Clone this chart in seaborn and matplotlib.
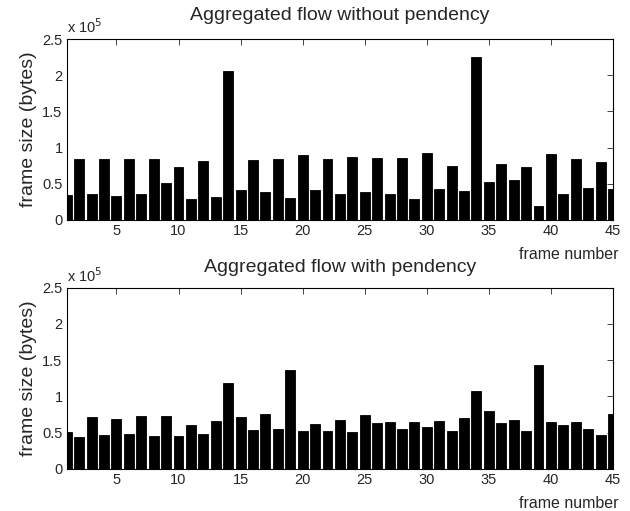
"""Frame sizes of the aggregated flow, with and without pendency."""

import matplotlib
matplotlib.use("Agg")
import matplotlib.pyplot as plt
import numpy as np
import pandas as pd
import seaborn as sns

# frame numbers 1..45
frames = list(range(1, 46))

# frame size in units of 10^5 bytes
without_pendency = [
    0.344, 0.849, 0.353, 0.839, 0.330, 0.839, 0.362, 0.844, 0.509, 0.734,
    0.284, 0.810, 0.317, 2.055, 0.420, 0.835, 0.390, 0.849, 0.303, 0.894,
    0.408, 0.849, 0.353, 0.870, 0.380, 0.858, 0.353, 0.853, 0.284, 0.927,
    0.427, 0.752, 0.394, 2.257, 0.528, 0.775, 0.555, 0.734, 0.188, 0.917,
    0.362, 0.849, 0.436, 0.800, 0.427,
]
with_pendency = [
    0.505, 0.445, 0.716, 0.463, 0.693, 0.482, 0.725, 0.450, 0.729, 0.450,
    0.610, 0.486, 0.656, 1.180, 0.720, 0.537, 0.752, 0.546, 1.362, 0.518,
    0.624, 0.523, 0.674, 0.505, 0.739, 0.638, 0.642, 0.546, 0.642, 0.573,
    0.656, 0.518, 0.702, 1.073, 0.794, 0.628, 0.670, 0.518, 1.431, 0.647,
    0.610, 0.647, 0.550, 0.463, 0.757,
]

titles = ["Aggregated flow without pendency", "Aggregated flow with pendency"]
y_ticks = [0, 0.5, 1, 1.5, 2, 2.5]
x_ticks = [5, 10, 15, 20, 25, 30, 35, 40, 45]

sns.set_style("white")
plt.rcParams["font.family"] = ["Liberation Sans", "DejaVu Sans"]

fig = plt.figure(figsize=(6.3, 5.11), dpi=100)
ax_top = fig.add_axes([0.106, 0.5695, 0.867, 0.354])
ax_bot = fig.add_axes([0.106, 0.0822, 0.867, 0.355])

for ax, values, title, pad in zip([ax_top, ax_bot],
                                  [without_pendency, with_pendency],
                                  titles, [14, 11]):
    df = pd.DataFrame({"frame": frames, "size": values})
    sns.barplot(
        data=df, x="frame", y="size", native_scale=True,
        color="black", saturation=1, width=0.8,
        edgecolor="black", linewidth=0.6, errorbar=None, ax=ax,
    )
    ax.set_xlim(1, 45)
    ax.set_ylim(0, 2.5)
    ax.set_xticks(x_ticks)
    ax.set_yticks(y_ticks)
    ax.set_yticklabels([f"{t:g}" for t in y_ticks])
    ax.tick_params(direction="in", top=True, right=True, length=4,
                   width=0.6, labelsize=10.5, pad=3)
    for s in ax.spines.values():
        s.set_visible(True)
        s.set_color("black")
        s.set_linewidth(0.8)
    ax.set_title(title, fontsize=14, pad=pad)
    ax.set_ylabel("frame size (bytes)", fontsize=14, labelpad=4)
    ax.set_xlabel("frame number", fontsize=11.5, ha="right")
    ax.xaxis.set_label_coords(1.011, -0.15)
    ax.text(0.0, 1.015, r"x 10$^5$", transform=ax.transAxes,
            fontsize=10.5, ha="left", va="bottom")

fig.savefig("out.png", dpi=100)
